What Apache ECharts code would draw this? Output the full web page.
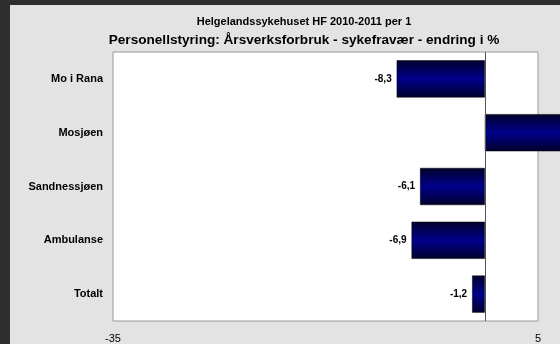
<!DOCTYPE html>
<html>
<head>
<meta charset="utf-8">
<script src="https://cdn.jsdelivr.net/npm/echarts@6/dist/echarts.min.js"></script>
<style>
html,body{margin:0;padding:0;}
body{width:560px;height:344px;background:#2e2e2e;overflow:hidden;}
.show{position:absolute;left:10px;top:5px;width:550px;height:339px;background:#e3e3e3;}
</style>
</head>
<body>
<div class="show" id="chart"></div>
<script>
const categories = ['Mo i Rana', 'Mosjøen', 'Sandnessjøen', 'Ambulanse', 'Totalt']
const values = [-8.3, 8.2, -6.1, -6.9, -1.2]
const axisMin = -35
const axisMax = 5

const chart = echarts.init(document.getElementById('chart'))

const barColor = new echarts.graphic.LinearGradient(0, 0, 0, 1, [
    {offset: 0, color: '#00002a'},
    {offset: 0.5, color: '#00008c'},
    {offset: 1, color: '#00002a'}
])

const option = {
    animation: false,
    textStyle: {fontFamily: 'Liberation Sans, Arial, sans-serif'},
    title: [
        {
            text: 'Helgelandssykehuset HF 2010-2011 per 1',
            left: 289, top: 6, textAlign: 'center',
            textStyle: {fontSize: 11, fontWeight: 'bold', color: '#000'}
        },
        {
            text: 'Personellstyring: Årsverksforbruk - sykefravær - endring i %',
            left: 289, top: 23, textAlign: 'center',
            textStyle: {fontSize: 13.6, fontWeight: 'bold', color: '#000'}
        }
    ],
    grid: {
        left: 103, top: 47, width: 425, height: 269,
        show: true, backgroundColor: '#fff', borderColor: '#999', borderWidth: 1
    },
    xAxis: {
        type: 'value',
        min: axisMin, max: axisMax, interval: 5,
        axisLine: {show: false},
        axisTick: {show: false},
        splitLine: {show: false},
        axisLabel: {
            color: '#000', fontSize: 11, margin: 12,
            formatter: v => (v === axisMin || v === axisMax) ? String(v) : ''
        }
    },
    yAxis: {
        type: 'category',
        data: categories,
        inverse: true,
        axisLine: {show: false, onZero: false},
        axisTick: {show: false},
        axisLabel: {color: '#000', fontSize: 11, fontWeight: 'bold', margin: 10}
    },
    series: [{
        type: 'bar',
        data: values.map(v => ({value: v, label: {position: v < 0 ? 'left' : 'right'}})),
        barWidth: '69%',
        clip: false,
        itemStyle: {color: barColor, borderColor: '#000', borderWidth: 0.5},
        label: {
            show: true,
            distance: 5,
            color: '#000', fontSize: 10, fontWeight: 'bold',
            formatter: p => String(p.value).replace('.', ',')
        },
        markLine: {
            silent: true,
            symbol: 'none',
            label: {show: false},
            lineStyle: {color: '#555', width: 1, type: 'solid'},
            data: [{xAxis: 0}]
        }
    }]
}

chart.setOption(option)
</script>
</body>
</html>
